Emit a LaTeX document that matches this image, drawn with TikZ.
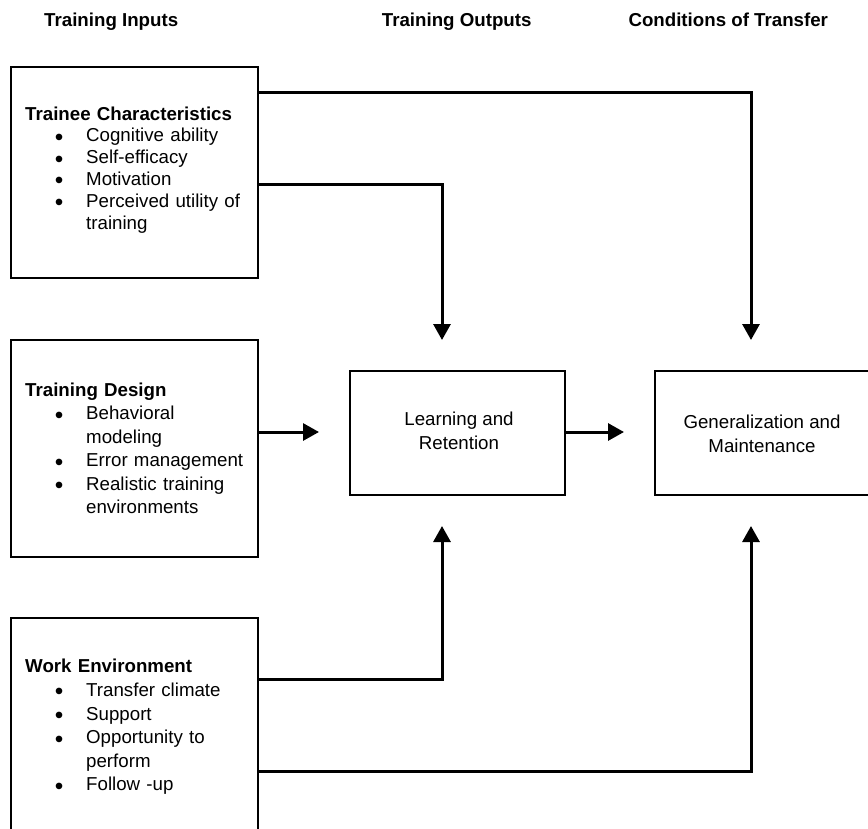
\documentclass[tikz,border=0pt]{standalone}
\usepackage{fontspec}
\usepackage{graphicx}
\setmainfont{Liberation Sans}
\usetikzlibrary{arrows.meta}
\newcommand\bmark{\smash{\raisebox{-3.4pt}{\scalebox{1.3}{\textbullet}}}}
\newcommand\bitem[1]{\par\hangindent=61pt\hangafter=0\noindent\hspace*{-31.3pt}\makebox[31.3pt][l]{\bmark}#1}
\begin{document}
\begin{tikzpicture}[x=1pt,y=-1pt,
  box/.style={draw, line width=2pt, inner sep=0, anchor=north west},
  arr/.style={line width=3pt, -{Triangle[length=16pt,width=17pt]}, shorten >=30pt},
  hdr/.style={font=\fontsize{18.7}{21.7}\selectfont\bfseries, anchor=base west, inner sep=0},
  txt/.style={anchor=north west, inner sep=0, text width=240pt, align=left},
  ctr/.style={font=\fontsize{18.7}{24.4}\selectfont, align=center, inner sep=0}]
\useasboundingbox (0,0) rectangle (868,828);
\clip (0,0) rectangle (868,828);
% headers
\node[hdr] (h1) at (44,26.7) {Training Inputs};
\node[hdr] (h2) at (381.7,26.7) {Training Outputs};
\node[hdr] (h3) at (628.3,26.7) {Conditions of Transfer};
% boxes
\node[box, minimum width=247pt, minimum height=211pt] (tc) at (10,66) {};
\node[box, minimum width=247pt, minimum height=217pt] (td) at (10,339) {};
\node[box, minimum width=247pt, minimum height=300pt] (we) at (10,617) {};
\node[box, minimum width=215pt, minimum height=124pt] (lr) at (349,370) {};
\node[box, minimum width=300pt, minimum height=124pt] (gm) at (654,370) {};
% box texts
\node[txt, font=\fontsize{18.7}{21.8}\selectfont] (tctext) at (25,106.4)
  {\textbf{Trainee Characteristics}\bitem{Cognitive ability}\bitem{Self-efficacy}\bitem{Motivation}\bitem{Perceived utility of\newline training}\par};
\node[txt, font=\fontsize{18.7}{23.5}\selectfont] (tdtext) at (25,382.4)
  {\textbf{Training Design}\bitem{Behavioral\newline modeling}\bitem{Error management}\bitem{Realistic training\newline environments}\par};
\node[txt, font=\fontsize{18.7}{23.6}\selectfont] (wetext) at (25,659.1)
  {\textbf{Work Environment}\bitem{Transfer climate}\bitem{Support}\bitem{Opportunity to\newline perform}\bitem{Follow -up}\par};
\node[ctr] (lrtext) at (459,431) {Learning and\\Retention};
\node[ctr] (gmtext) at (762,434) {Generalization and\\Maintenance};
% helper coordinates
\coordinate (y1) at (0,92.5);
\coordinate (y2) at (0,184);
\coordinate (y3) at (0,432);
\coordinate (y5) at (0,679);
\coordinate (y6) at (0,771);
\coordinate (x1) at (442,0);
\coordinate (x2) at (751,0);
% connectors
\draw[arr] (tc.east |- y1) -| (gm.north -| x2);
\draw[arr] (tc.east |- y2) -| (lr.north -| x1);
\draw[arr] (td.east |- y3) -- (lr.west |- y3);
\draw[arr] (lr.east |- y3) -- (gm.west |- y3);
\draw[arr] (we.east |- y5) -| (lr.south -| x1);
\draw[arr] (we.east |- y6) -| (gm.south -| x2);
\end{tikzpicture}
\end{document}
